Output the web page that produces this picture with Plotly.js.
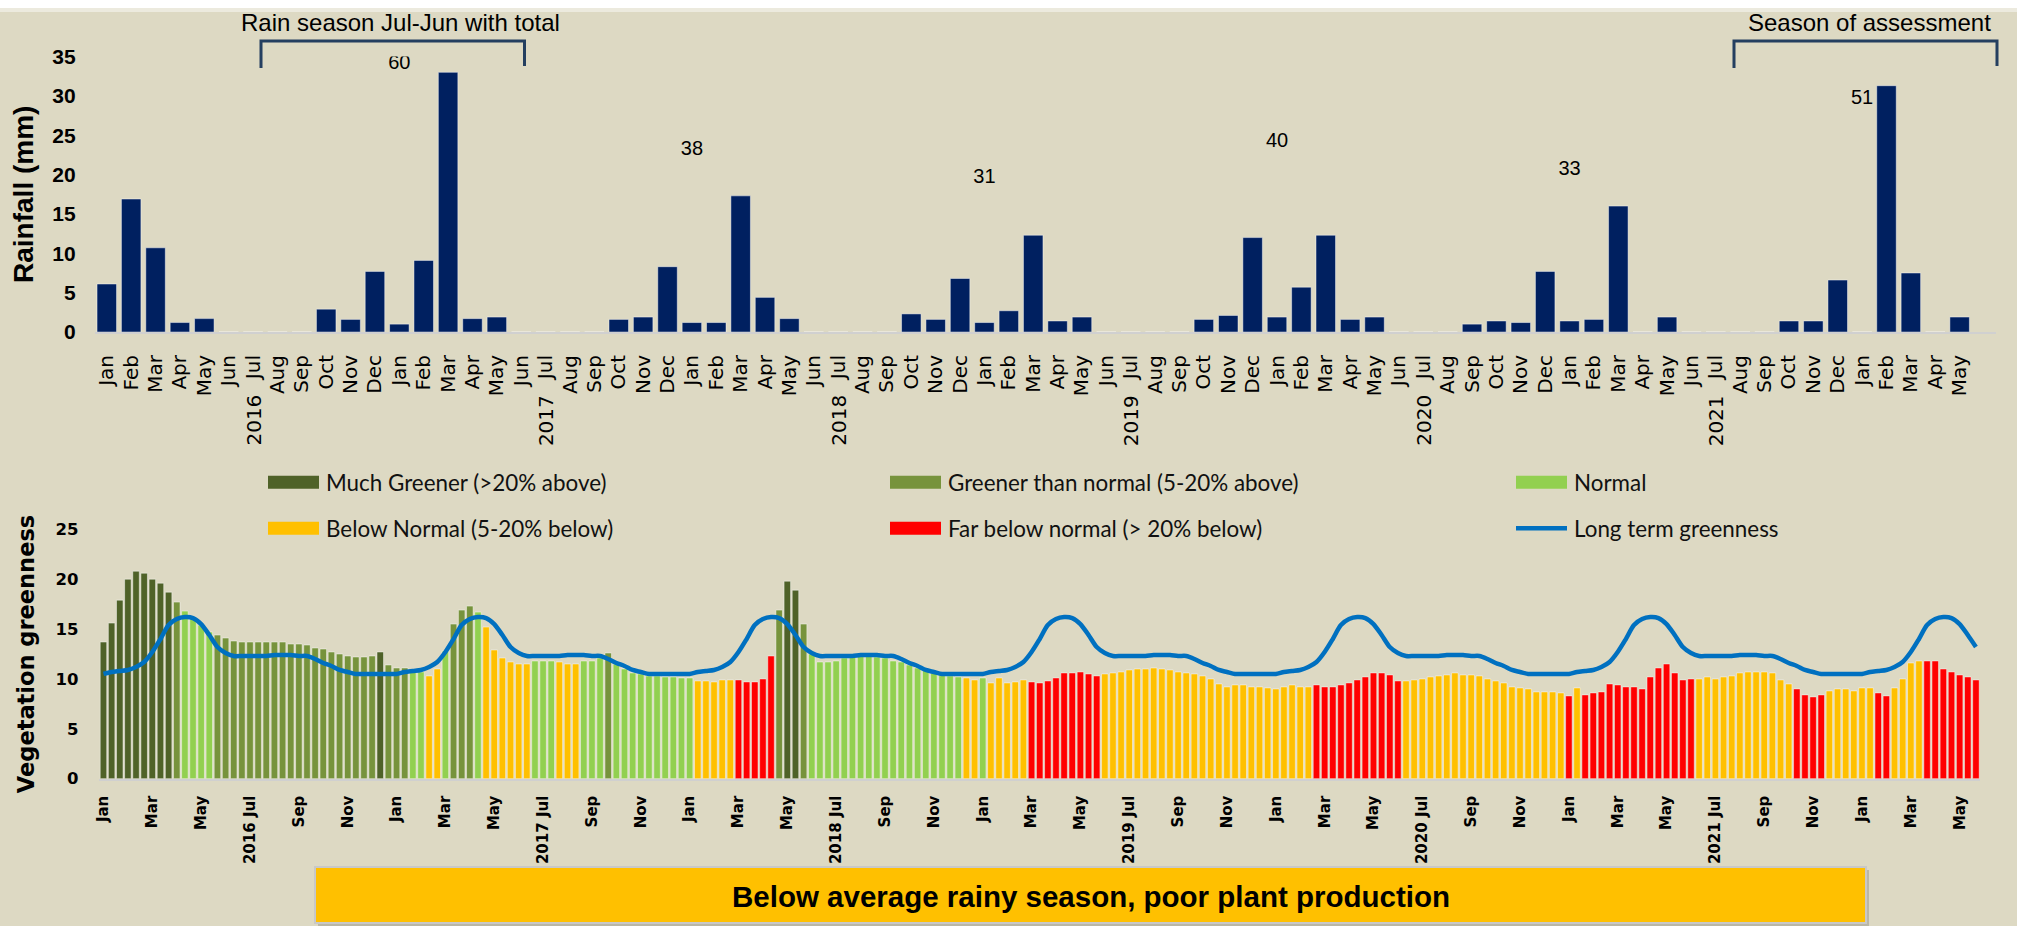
<!DOCTYPE html>
<html>
<head>
<meta charset="utf-8">
<script src="https://cdn.plot.ly/plotly-3.0.1.min.js"></script>
<style>
html,body{margin:0;padding:0;background:#DDD9C3;}
#chart{width:2017px;height:926px;}
</style>
</head>
<body>
<div id="chart"></div>
<script>
// ---------------- DATA ----------------
const monthNames = ['Jan','Feb','Mar','Apr','May','Jun','Jul','Aug','Sep','Oct','Nov','Dec'];
const firstYear = 2016;

// Monthly rainfall (mm), Jan 2016 .. May 2022
const rainfall = [
  6.1, 16.9, 10.7, 1.2, 1.7, 0, 0, 0, 0, 2.9, 1.6, 7.7,   // 2016
  1.0, 9.1, 33.0, 1.7, 1.9, 0, 0, 0, 0, 1.6, 1.9, 8.3,    // 2017
  1.2, 1.2, 17.3, 4.4, 1.7, 0, 0, 0, 0, 2.3, 1.6, 6.8,    // 2018
  1.2, 2.7, 12.3, 1.4, 1.9, 0, 0, 0, 0, 1.6, 2.1, 12.0,   // 2019
  1.9, 5.7, 12.3, 1.6, 1.9, 0, 0, 0, 1.0, 1.4, 1.2, 7.7,  // 2020
  1.4, 1.6, 16.0, 0, 1.9, 0, 0, 0, 0, 1.4, 1.4, 6.6,      // 2021
  0, 31.3, 7.5, 0, 1.9                                    // 2022
];

// Rain seasons (Jul-Jun) and their totals (mm)
const seasonStartYears = [2016, 2017, 2018, 2019, 2020, 2021];
const seasonTotals = [60, 38, 31, 40, 33, 51];

// Dekadal vegetation greenness, Jan 2016 dekad 1 .. May 2022 dekad 3
const greenness = [
  // 2016
  13.7,15.6,17.9, 20.0,20.8,20.6, 20.0,19.6,18.7, 17.7,16.8,16.2, 15.4,14.7,14.4, 14.1,13.8,13.7,
  13.7,13.7,13.7, 13.7,13.7,13.5, 13.5,13.4,13.1, 13.0,12.7,12.5, 12.3,12.2,12.2, 12.3,12.7,11.4,
  // 2017
  11.1,11.1,10.8, 10.7,10.3,11.0, 12.8,15.5,16.9, 17.3,16.7,15.2, 12.9,12.1,11.7, 11.5,11.5,11.8,
  11.8,11.8,11.7, 11.5,11.5,11.8, 11.8,12.1,12.6, 11.5,11.0,10.6, 10.5,10.3,10.3, 10.2,10.2,10.1,
  // 2018
  10.1,9.8,9.8, 9.7,9.9,9.9, 9.9,9.7,9.7, 10.0,12.3,16.9, 19.8,18.9,15.5, 12.5,11.7,11.7,
  11.8,12.1,12.2, 12.3,12.3,12.2, 12.1,11.8,11.7, 11.4,11.1,10.9, 10.6,10.5,10.3, 10.2,10.1,9.9,
  // 2019
  10.1,9.6,10.1, 9.6,9.7,9.9, 9.7,9.6,9.8, 10.1,10.6,10.6, 10.7,10.5,10.3, 10.5,10.6,10.7,
  10.9,11.0,11.0, 11.1,11.0,10.9, 10.7,10.6,10.5, 10.3,10.0,9.5, 9.2,9.4,9.4, 9.2,9.2,9.1,
  // 2020
  9.0,9.2,9.4, 9.2,9.2,9.4, 9.2,9.2,9.4, 9.6,9.9,10.2, 10.6,10.6,10.4, 9.8,9.8,9.9,
  10.0,10.2,10.3, 10.4,10.6,10.4, 10.4,10.3,10.0, 9.8,9.6,9.2, 9.1,9.0,8.7, 8.7,8.7,8.6,
  // 2021
  8.3,9.1,8.4, 8.6,8.7,9.5, 9.4,9.2,9.2, 9.0,10.2,11.1, 11.5,10.6,9.9, 10.0,10.0,10.2,
  10.0,10.2,10.3, 10.6,10.7,10.7, 10.7,10.6,9.9, 9.5,9.0,8.4, 8.2,8.4,8.8, 9.0,9.0,8.8,
  // 2022
  9.1,9.1,8.6, 8.3,9.1,10.0, 11.6,11.8,11.8, 11.8,11.0,10.7, 10.4,10.2,9.9
];

// Greenness class of each dekad (D much greener, G greener, N normal, B below, F far below)
const greennessClass = (
  'DDD DDD DDD GNN NNG GGG GGG GGG GGG GGG GGG GDG ' +   // 2016
  'GGN NBB NGG GNB BBB BBN NNB BBN NNG NNN NNN NNN ' +   // 2017
  'NBB BBB FFF FFG DDG NNN NNN NNN NNN NNN NNN NBB ' +   // 2018
  'NBB BBB FFF FFF FFF BBB BBB BBB BBB BBB BBB BBB ' +   // 2019
  'BBB BBF FFF FFF FFF FBB BBB BBB BBB BBB BBB BBB ' +   // 2020
  'FBF FFF FFF FFF FFF FBB BBB BBB BBB BFF FFB BBB ' +   // 2021
  'BBF FBB BBF FFF FFF'                                  // 2022
).replace(/ /g, '').split('');

// Long-term (climatological) greenness for the 36 dekads of a year
const longTermByDekad = [
  10.5, 10.7, 10.8,  10.9, 11.2, 11.7,  12.7, 14.0, 15.4,  16.0, 16.2, 16.1,
  15.5, 14.4, 13.2,  12.6, 12.3, 12.3,  12.3, 12.3, 12.3,  12.4, 12.4, 12.4,
  12.3, 12.3, 12.0,  11.6, 11.3, 10.9,  10.7, 10.5, 10.5,  10.5, 10.5, 10.5
];

// Class names & colours
const classKeys = ['D', 'G', 'N', 'B', 'F'];
const classNames = {
  D: 'Much Greener (>20% above)',
  G: 'Greener than normal (5-20% above)',
  N: 'Normal',
  B: 'Below Normal (5-20% below)',
  F: 'Far below normal (> 20% below)'
};
const classColors = { D: '#4F6228', G: '#77933C', N: '#92D050', B: '#FFC000', F: '#FF0000' };
const longTermName = 'Long term greenness';

// Bottom axis tick labels (every second month)
const greenTickLabels = [
  'Jan','Mar','May','2016 Jul','Sep','Nov',
  'Jan','Mar','May','2017 Jul','Sep','Nov',
  'Jan','Mar','May','2018 Jul','Sep','Nov',
  'Jan','Mar','May','2019 Jul','Sep','Nov',
  'Jan','Mar','May','2020 Jul','Sep','Nov',
  'Jan','Mar','May','2021 Jul','Sep','Nov',
  'Jan','Mar','May'
];

// ---------------- BUILD ----------------
const W = 2017, H = 926;
const px = v => v / W;            // pixel -> paper x
const py = v => 1 - v / H;        // pixel -> paper y

const rainIdx = rainfall.map((_, i) => i);
const rainMonthLabels = rainIdx.map(i => monthNames[i % 12]);
const greenIdx = greenness.map((_, i) => i);
const longTerm = greenIdx.map(i => longTermByDekad[i % 36]);

const barOutline = { color: 'rgba(255,255,255,0.45)', width: 1 };
const traces = [];

traces.push({
  type: 'bar', x: rainIdx, y: rainfall, xaxis: 'x', yaxis: 'y',
  marker: { color: '#002060', line: barOutline },
  name: 'Rainfall', showlegend: false, hoverinfo: 'y'
});

// Season totals as text labels placed at the January of each season
const seasonLabelLevel = [34.0, 23.1, 19.6, 24.2, 20.6, 29.6];
traces.push({
  type: 'scatter', mode: 'text', xaxis: 'x', yaxis: 'y',
  x: seasonStartYears.map(y => (y + 1 - firstYear) * 12),
  y: seasonLabelLevel,
  text: seasonTotals.map(String),
  textposition: 'middle center',
  textfont: { family: 'Liberation Sans, Arial, sans-serif', size: 20, color: '#000' },
  showlegend: false, hoverinfo: 'text'
});

classKeys.forEach(k => {
  traces.push({
    type: 'bar', xaxis: 'x2', yaxis: 'y2',
    x: greenIdx,
    y: greenness.map((v, i) => greennessClass[i] === k ? v : null),
    marker: { color: classColors[k], line: barOutline },
    name: classNames[k], showlegend: false
  });
});

traces.push({
  type: 'scatter', mode: 'lines', xaxis: 'x2', yaxis: 'y2',
  x: greenIdx, y: longTerm,
  line: { color: '#0070C0', width: 4.5, shape: 'spline', smoothing: 0.8 },
  name: longTermName, showlegend: false
});

// ---------------- DECORATIONS ----------------
const shapes = [];
const annotations = [];

// white top strip
shapes.push({ type: 'rect', xref: 'paper', yref: 'paper', x0: 0, x1: 1, y0: py(8), y1: 1, fillcolor: '#FFFFFF', line: { width: 0 }, layer: 'below' });
shapes.push({ type: 'rect', xref: 'paper', yref: 'paper', x0: 0, x1: 1, y0: py(12), y1: py(8), fillcolor: 'rgba(255,255,255,0.45)', line: { width: 0 }, layer: 'below' });

// brackets
const bracketColor = '#243F60';
function bracket(xl, xr) {
  shapes.push({
    type: 'path', xref: 'paper', yref: 'paper',
    path: `M ${px(xl)},${py(68)} L ${px(xl)},${py(41)} L ${px(xr)},${py(41)} L ${px(xr)},${py(66)}`,
    line: { color: bracketColor, width: 3 }
  });
}
bracket(261, 524.5);
bracket(1734, 1997);
const noteFont = { family: 'Liberation Sans, Arial, sans-serif', size: 24, color: '#000' };
annotations.push({ xref: 'paper', yref: 'paper', x: px(400), y: py(23), xanchor: 'center', yanchor: 'middle', text: 'Rain season Jul-Jun with total', showarrow: false, font: noteFont });
annotations.push({ xref: 'paper', yref: 'paper', x: px(1869), y: py(23), xanchor: 'center', yanchor: 'middle', text: 'Season of assessment', showarrow: false, font: noteFont });

// year labels below the rainfall month labels (at July of each year)
for (let y = firstYear; y <= 2021; y++) {
  annotations.push({
    xref: 'x', yref: 'paper', x: (y - firstYear) * 12 + 6, y: py(393), yanchor: 'top', xanchor: 'center',
    text: String(y), textangle: -90, showarrow: false,
    font: { family: 'DejaVu Sans, Verdana, sans-serif', size: 20, color: '#000' }
  });
}

// legend (drawn manually: 3 columns x 2 rows)
const legCols = [268, 890, 1516];
const legRows = [482.3, 528.3];
const legendEntries = classKeys.map(k => ({ name: classNames[k], color: classColors[k], kind: 'box' }))
  .concat([{ name: longTermName, color: '#0070C0', kind: 'line' }]);
legendEntries.forEach((e, i) => {
  const cx = legCols[i % 3], cy = legRows[Math.floor(i / 3)];
  if (e.kind === 'box') {
    shapes.push({ type: 'rect', xref: 'paper', yref: 'paper', x0: px(cx), x1: px(cx + 51), y0: py(cy + 6.5), y1: py(cy - 6.5), fillcolor: e.color, line: { width: 0 } });
  } else {
    shapes.push({ type: 'line', xref: 'paper', yref: 'paper', x0: px(cx), x1: px(cx + 51), y0: py(cy), y1: py(cy), line: { color: e.color, width: 4.5 } });
  }
  annotations.push({
    xref: 'paper', yref: 'paper', x: px(cx + 56), y: py(cy), xanchor: 'left', yanchor: 'middle',
    text: e.name, showarrow: false,
    font: { family: 'Lato, Carlito, Calibri, sans-serif', size: 22.4, color: '#111' }
  });
});

// bottom conclusion box
shapes.push({ type: 'rect', xref: 'paper', yref: 'paper', x0: px(318), x1: px(1869), y0: py(926), y1: py(870), fillcolor: 'rgba(120,120,110,0.35)', line: { width: 0 } });
shapes.push({ type: 'rect', xref: 'paper', yref: 'paper', x0: px(315), x1: px(1866), y0: py(923), y1: py(867), fillcolor: '#FFC000', line: { color: '#C8C8C8', width: 2 } });
annotations.push({
  xref: 'paper', yref: 'paper', x: px(1091), y: py(896), xanchor: 'center', yanchor: 'middle',
  text: 'Below average rainy season, poor plant production',
  showarrow: false, font: { family: 'Liberation Sans, Arial, sans-serif', size: 29.5, color: '#000', weight: 'bold' }
});

// ---------------- LAYOUT ----------------
const axisTitleFont = { family: 'Liberation Sans, Arial, sans-serif', size: 28, color: '#000', weight: 'bold' };
const layout = {
  width: W, height: H,
  margin: { l: 0, r: 0, t: 0, b: 0, pad: 0 },
  paper_bgcolor: '#DDD9C3', plot_bgcolor: 'rgba(0,0,0,0)',
  barmode: 'overlay', bargap: 0.2, showlegend: false,
  xaxis: {
    type: 'linear', domain: [px(94.6), px(1996.2)], range: [-0.5, 77.5], anchor: 'y',
    tickmode: 'array', tickvals: rainIdx, ticktext: rainMonthLabels, tickangle: -90,
    tickfont: { family: 'DejaVu Sans, Verdana, sans-serif', size: 20, color: '#000' },
    ticks: '', ticklabelstandoff: 13,
    showline: true, linecolor: '#D0D0D0', linewidth: 2, showgrid: false, zeroline: false, automargin: false
  },
  yaxis: {
    type: 'linear', domain: [py(332), py(56.6)], range: [0, 35], anchor: 'x',
    tick0: 0, dtick: 5, ticks: '', ticklabelstandoff: 18,
    tickfont: { family: 'Liberation Sans, Arial, sans-serif', size: 21, color: '#000', weight: 'bold' },
    showline: false, showgrid: false, zeroline: false, automargin: false,
    title: { text: 'Rainfall (mm)', font: axisTitleFont, standoff: 10 }
  },
  xaxis2: {
    type: 'linear', domain: [px(99.4), px(1980)], range: [-0.5, 230.5], anchor: 'y2',
    tickmode: 'array', tickvals: greenTickLabels.map((_, i) => i * 6), ticktext: greenTickLabels, tickangle: -90,
    tickfont: { family: 'DejaVu Sans, Verdana, sans-serif', size: 15, color: '#000', weight: 'bold' },
    ticks: '', ticklabelstandoff: 9,
    showline: true, linecolor: '#D0D0D0', linewidth: 2, showgrid: false, zeroline: false, automargin: false
  },
  yaxis2: {
    type: 'linear', domain: [py(778.7), py(529.3)], range: [0, 25], anchor: 'x2',
    tick0: 0, dtick: 5, ticks: '', ticklabelstandoff: 20,
    tickfont: { family: 'DejaVu Sans, Verdana, sans-serif', size: 16.5, color: '#000', weight: 'bold' },
    showline: false, showgrid: false, zeroline: false, automargin: false,
    title: { text: 'Vegetation greenness', font: { family: 'DejaVu Sans, Verdana, sans-serif', size: 22.5, color: '#000', weight: 'bold' }, standoff: 14 }
  },
  shapes: shapes,
  annotations: annotations
};

Plotly.newPlot('chart', traces, layout, { displayModeBar: false, responsive: false });
</script>
</body>
</html>
